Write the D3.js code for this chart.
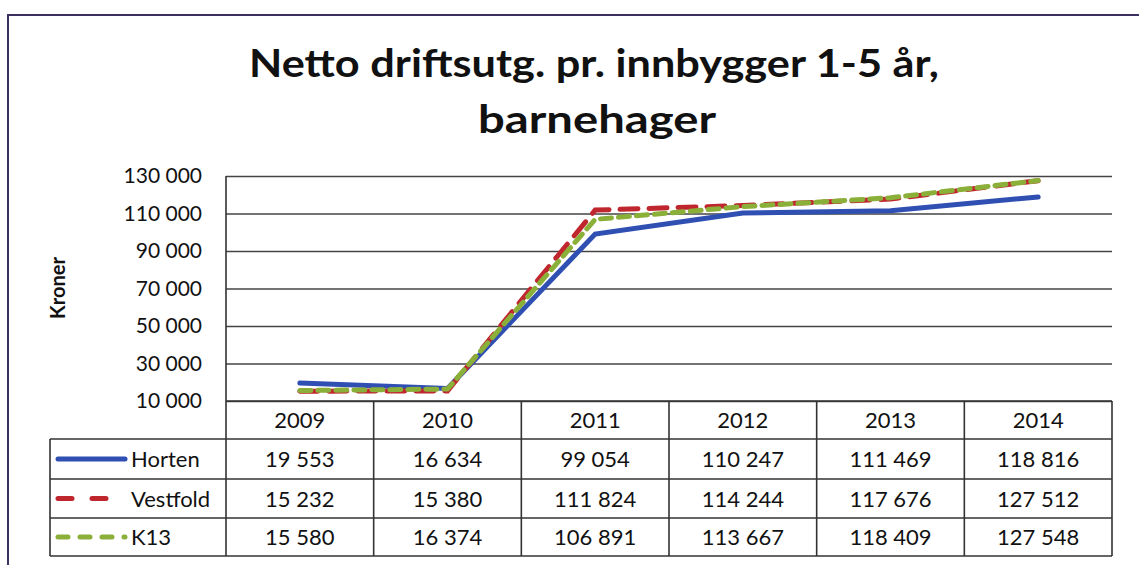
<!DOCTYPE html>
<html><head><meta charset="utf-8">
<script src="https://cdn.jsdelivr.net/npm/d3@7"></script>
<style>body{margin:0;background:#fff}svg{display:block}text{font-family:Lato,"Open Sans",sans-serif;fill:#111}</style>
</head><body><svg id="c" width="1139" height="565"></svg>
<script>
const years = ["2009","2010","2011","2012","2013","2014"];
const horten = [19553,16634,99054,110247,111469,118816];
const vestfold = [15232,15380,111824,114244,117676,127512];
const k13 = [15580,16374,106891,113667,118409,127548];
const seriesNames = ["Horten","Vestfold","K13"];
const yTicks = [10000,30000,50000,70000,90000,110000,130000];
const title1 = "Netto driftsutg. pr. innbygger 1-5 år,";
const title2 = "barnehager";
const yLabel = "Kroner";

const series = [
  {name:seriesNames[0], values:horten, color:"#2f4fb3", dash:null},
  {name:seriesNames[1], values:vestfold, color:"#c0262e", dash:"18,11"},
  {name:seriesNames[2], values:k13, color:"#8bb03a", dash:"11,7"}
];

const svg = d3.select("#c");
const L=226, R=1112, T=176, B=401;
const rowH = [401,439,479,518,556];
const legL = 50;

// outer frame
svg.append("path").attr("d","M8,565 V15 H1139").attr("fill","none").attr("stroke","#3b3060").attr("stroke-width",2);

// title
svg.append("text").attr("x",594).attr("y",77).attr("text-anchor","middle")
  .attr("textLength",690).attr("lengthAdjust","spacingAndGlyphs")
  .style("font-size","39px").style("font-weight","bold").text(title1);
svg.append("text").attr("x",597).attr("y",133).attr("text-anchor","middle")
  .attr("textLength",238).attr("lengthAdjust","spacingAndGlyphs")
  .style("font-size","39px").style("font-weight","bold").text(title2);

const x = d3.scaleBand().domain(years).range([L,R]);
const y = d3.scaleLinear().domain([10000,130000]).range([B,T]);

// gridlines + axis
const fmt = v => d3.format(",")(v).replace(/,/g," ");
const yAxis = d3.axisLeft(y).tickValues(yTicks).tickFormat(fmt).tickSize(-(R-L)).tickPadding(24);
const ga = svg.append("g").attr("transform",`translate(${L},0)`).call(yAxis);
ga.select(".domain").remove();
ga.selectAll(".tick line").attr("stroke","#444").attr("stroke-width",1.6);
ga.selectAll(".tick text").style("font-size","21px").style("font-family","Lato,sans-serif").attr("fill","#111");

svg.append("text").attr("transform","translate(65,288) rotate(-90)").attr("text-anchor","middle")
  .style("font-size","20px").style("font-weight","bold").text(yLabel);

// lines
const line = d3.line().x((d,i)=>x(years[i])+x.bandwidth()/2).y(d=>y(d));
series.forEach(s=>{
  svg.append("path").datum(s.values).attr("d",line).attr("fill","none")
    .attr("stroke",s.color).attr("stroke-width",5).attr("stroke-linecap","round")
    .attr("stroke-dasharray",s.dash);
});

// table
const tg = svg.append("g").attr("stroke","#333").attr("stroke-width",1.6);
tg.append("line").attr("x1",L).attr("x2",L).attr("y1",T).attr("y2",rowH[4]);
tg.append("line").attr("x1",L).attr("x2",R).attr("y1",rowH[0]).attr("y2",rowH[0]);
for(let i=1;i<5;i++) tg.append("line").attr("x1",legL).attr("x2",R).attr("y1",rowH[i]).attr("y2",rowH[i]);
tg.append("line").attr("x1",legL).attr("x2",legL).attr("y1",rowH[1]).attr("y2",rowH[4]);
years.forEach(yr=>{
  const xr = x(yr)+x.bandwidth();
  tg.append("line").attr("x1",xr).attr("x2",xr).attr("y1",rowH[0]).attr("y2",rowH[4]);
});
years.forEach(yr=>{
  svg.append("text").attr("x",x(yr)+x.bandwidth()/2).attr("y",(rowH[0]+rowH[1])/2+8)
    .attr("text-anchor","middle").style("font-size","22px").text(yr);
});
series.forEach((s,si)=>{
  const cy=(rowH[si+1]+rowH[si+2])/2;
  svg.append("line").attr("x1",58).attr("x2",125).attr("y1",cy).attr("y2",cy)
    .attr("stroke",s.color).attr("stroke-width",5).attr("stroke-linecap","round")
    .attr("stroke-dasharray",s.dash?(si==1?"14,20":"10,12"):null);
  svg.append("text").attr("x",131).attr("y",cy+8).style("font-size","22px").text(s.name);
  s.values.forEach((v,i)=>{
    svg.append("text").attr("x",x(years[i])+x.bandwidth()/2).attr("y",cy+8)
      .attr("text-anchor","middle").style("font-size","22px").text(fmt(v));
  });
});
</script></body></html>
